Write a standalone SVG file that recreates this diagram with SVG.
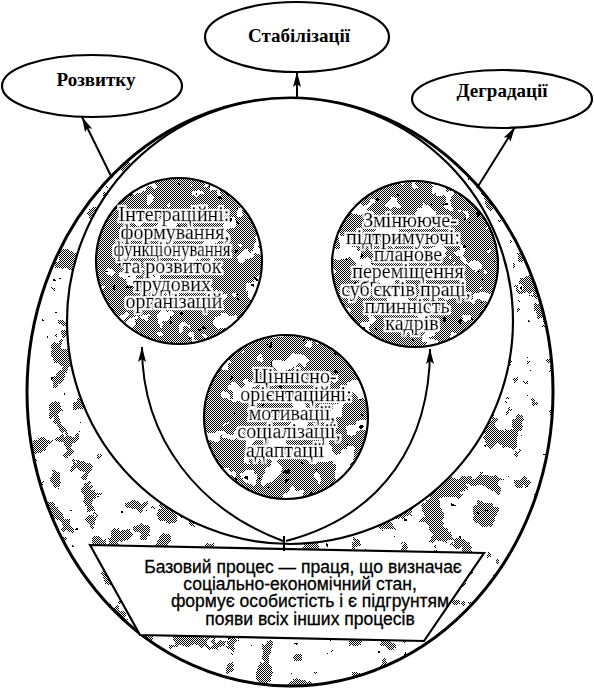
<svg xmlns="http://www.w3.org/2000/svg" width="594" height="690" viewBox="0 0 594 690">
<style>
.lbl{font-family:"Liberation Serif","Times New Roman",serif;font-weight:bold;font-size:19px;text-anchor:middle;fill:#000}
.ct{font-family:"Liberation Serif","Times New Roman",serif;font-size:20px;text-anchor:middle;fill:#000;stroke:#000;stroke-width:.4}
.bt{font-family:"Liberation Sans",Arial,sans-serif;font-size:17.5px;text-anchor:middle;fill:#000;stroke:#000;stroke-width:.3}
.ol{fill:#fff;stroke:#000;stroke-width:2.2}
.dit{fill:url(#dith)}
.edge{fill:none;stroke:#000;stroke-width:2.2}
.con{fill:none;stroke:#000;stroke-width:2}
</style>
<defs>
<pattern id="dith" width="2" height="2" patternUnits="userSpaceOnUse">
<rect width="2" height="2" fill="#fff"/>
<rect width="1" height="1" fill="#000"/>
<rect x="1" y="1" width="1" height="1" fill="#000"/>
</pattern>
<filter id="halo" x="-5%" y="-5%" width="110%" height="110%">
<feMorphology in="SourceAlpha" operator="dilate" radius="2" result="d"/>
<feFlood flood-color="#fff" flood-opacity="1"/>
<feComposite in2="d" operator="in" result="w"/>
<feMerge><feMergeNode in="w"/><feMergeNode in="SourceGraphic"/></feMerge>
</filter>
<filter id="mottle" x="0" y="0" width="1" height="1" color-interpolation-filters="sRGB">
<feTurbulence type="fractalNoise" baseFrequency="0.045" numOctaves="3" seed="7" result="n1"/>
<feColorMatrix in="n1" type="matrix" values="0 0 0 0 1  0 0 0 0 1  0 0 0 0 1  1 0 0 0 0" result="w0"/>
<feComponentTransfer in="w0" result="white"><feFuncA type="discrete" tableValues="0 0 0 0 0 0 1 1 1 1"/></feComponentTransfer>
<feTurbulence type="fractalNoise" baseFrequency="0.12" numOctaves="2" seed="21" result="n2"/>
<feColorMatrix in="n2" type="matrix" values="0 0 0 0 0  0 0 0 0 0  0 0 0 0 0  0 1 0 0 0" result="b0"/>
<feComponentTransfer in="b0" result="black"><feFuncA type="discrete" tableValues="0 0 0 0 0 0 0 0 0 0 0 0 1 1 1 1"/></feComponentTransfer>
<feMerge result="m"><feMergeNode in="white"/><feMergeNode in="black"/></feMerge>
<feComposite in="m" in2="SourceAlpha" operator="in"/>
</filter>
<filter id="mottle2" x="0" y="0" width="1" height="1" color-interpolation-filters="sRGB">
<feTurbulence type="fractalNoise" baseFrequency="0.04" numOctaves="4" seed="3" result="n1"/>
<feColorMatrix in="n1" type="matrix" values="0 0 0 0 1  0 0 0 0 1  0 0 0 0 1  1 0 0 0 0" result="w0"/>
<feComponentTransfer in="w0" result="white"><feFuncA type="discrete" tableValues="0 0 0 0 1 1 1 1 1 1"/></feComponentTransfer>
<feTurbulence type="fractalNoise" baseFrequency="0.5" numOctaves="1" seed="11" result="n3"/>
<feColorMatrix in="n3" type="matrix" values="0 0 0 0 0  0 0 0 0 0  0 0 0 0 0  1 0 0 0 0" result="s0"/>
<feComponentTransfer in="s0" result="specks"><feFuncA type="discrete" tableValues="0 0 0 0 0 0 0 0 0 0 0 0 0 0 1"/></feComponentTransfer>
<feTurbulence type="fractalNoise" baseFrequency="0.12" numOctaves="2" seed="5" result="n2"/>
<feColorMatrix in="n2" type="matrix" values="0 0 0 0 0  0 0 0 0 0  0 0 0 0 0  0 1 0 0 0" result="b0"/>
<feComponentTransfer in="b0" result="black"><feFuncA type="discrete" tableValues="0 0 0 0 0 0 0 0 0 0 0 0 0 1 1 1"/></feComponentTransfer>
<feMerge result="m"><feMergeNode in="white"/><feMergeNode in="specks"/><feMergeNode in="black"/></feMerge>
<feComposite in="m" in2="SourceAlpha" operator="in"/>
</filter>
<marker id="ah" viewBox="0 0 15 8" refX="15" refY="4" markerWidth="15" markerHeight="8" orient="auto" markerUnits="userSpaceOnUse">
<path d="M0,0 L15,4 L0,8 L3,4 z" fill="#000"/>
</marker>
</defs>

<rect width="594" height="690" fill="#fff"/>

<g id="ring">
<ellipse cx="290" cy="392" rx="263" ry="294" class="dit"/>
<ellipse cx="290" cy="392" rx="263" ry="294" fill="#000" filter="url(#mottle2)"/>
<ellipse cx="290" cy="392" rx="263" ry="294" fill="none" stroke="#000" stroke-width="3"/>
<circle cx="290" cy="321" r="223" fill="#fff" stroke="#000" stroke-width="2.2"/>
</g>

<g id="base-process">
<polygon points="90,545 484,553 424,641 140,635" class="ol"/>
<text class="bt" x="303" y="573">Базовий процес — праця, що визначає</text>
<text class="bt" x="300" y="590">соціально-економічний стан,</text>
<text class="bt" x="310" y="607">формує особистість і є підгрунтям</text>
<text class="bt" x="310" y="625">появи всіх інших процесів</text>
</g>

<g id="integration">
<circle cx="179" cy="261" r="83" class="dit"/>
<circle cx="179" cy="261" r="83" fill="#000" filter="url(#mottle)"/>
<circle cx="179" cy="261" r="83" class="edge"/>
<g filter="url(#halo)">
<text class="ct" x="174" y="221">Інтеграційні:</text>
<text class="ct" x="175" y="239">формування,</text>
<text class="ct" x="172" y="256" textLength="117" lengthAdjust="spacingAndGlyphs">функціонування</text>
<text class="ct" x="172" y="273">та розвиток</text>
<text class="ct" x="172" y="291">трудових</text>
<text class="ct" x="174" y="308">організацій</text>
</g>
</g>

<g id="changing">
<circle cx="415" cy="264" r="83" class="dit"/>
<circle cx="415" cy="264" r="83" fill="#000" filter="url(#mottle)"/>
<circle cx="415" cy="264" r="83" class="edge"/>
<g filter="url(#halo)">
<text class="ct" x="410" y="227">Змінююче-</text>
<text class="ct" x="403" y="244">підтримуючі:</text>
<text class="ct" x="408" y="261">планове</text>
<text class="ct" x="408" y="278">переміщення</text>
<text class="ct" x="406" y="296">суб'єктів праці,</text>
<text class="ct" x="407" y="313">плинність</text>
<text class="ct" x="412" y="330">кадрів</text>
</g>
</g>

<g id="value">
<circle cx="286" cy="417" r="82" class="dit"/>
<circle cx="286" cy="417" r="82" fill="#000" filter="url(#mottle)"/>
<circle cx="286" cy="417" r="82" class="edge"/>
<g filter="url(#halo)">
<text class="ct" x="295" y="383">Ціннісно-</text>
<text class="ct" x="296" y="401">орієнтаційні:</text>
<text class="ct" x="292" y="420">мотивації,</text>
<text class="ct" x="289" y="438">соціалізації,</text>
<text class="ct" x="285" y="457">адаптації</text>
</g>
</g>

<g id="rozvytku">
<ellipse cx="92" cy="86" rx="90" ry="31" class="ol"/>
<text class="lbl" x="96" y="86">Розвитку</text>
</g>
<g id="stabilizatsii">
<ellipse cx="297" cy="37" rx="92" ry="35" class="ol"/>
<text class="lbl" x="299" y="42">Стабілізації</text>
</g>
<g id="dehradatsii">
<ellipse cx="502" cy="99" rx="90" ry="29" class="ol"/>
<text class="lbl" x="502" y="97">Деградації</text>
</g>

<g id="connectors">
<line class="con" x1="112" y1="178" x2="82" y2="117" marker-end="url(#ah)"/>
<line class="con" x1="297" y1="98" x2="297" y2="72" marker-end="url(#ah)"/>
<line class="con" x1="477" y1="188" x2="515" y2="127" marker-end="url(#ah)"/>
<path class="con" d="M283,541 C200,510 142,440 142,347" marker-end="url(#ah)"/>
<path class="con" d="M286,541 C385,515 430,440 430,349" marker-end="url(#ah)"/>
<line class="con" x1="284" y1="536" x2="284" y2="551"/>
</g>
</svg>
